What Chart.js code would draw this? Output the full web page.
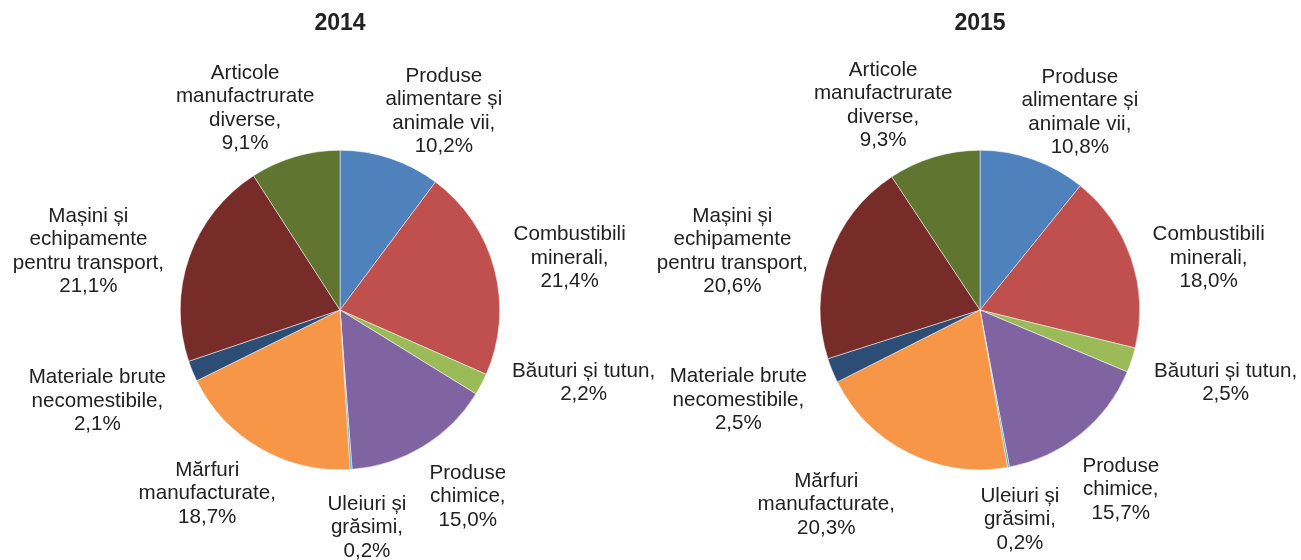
<!DOCTYPE html>
<html lang="ro">
<head>
    <meta charset="UTF-8">
    <meta name="viewport" content="width=device-width, initial-scale=1.0">
    <title>Structura exporturilor 2014 - 2015</title>
    <script src="https://cdn.jsdelivr.net/npm/chart.js"></script>
    <style>
        body {
            margin: 0;
            background: #fff;
            width: 1301px;
            height: 560px;
            position: relative;
            overflow: hidden;
            font-family: 'Liberation Sans', Arial, sans-serif;
        }

        .pie-box {
            position: absolute;
            top: 0;
            width: 680px;
            height: 560px;
        }

        #box2014 { left: 0; }
        #box2015 { left: 640px; }
    </style>
</head>
<body>
    <div class="pie-box" id="box2014"><canvas id="chart2014"></canvas></div>
    <div class="pie-box" id="box2015"><canvas id="chart2015"></canvas></div>

    <script>
        // categories (label lines), same order for both years, clockwise from 12 o'clock
        const categories = [
            ['Produse', 'alimentare și', 'animale vii,'],
            ['Combustibili', 'minerali,'],
            ['Băuturi și tutun,'],
            ['Produse', 'chimice,'],
            ['Uleiuri și', 'grăsimi,'],
            ['Mărfuri', 'manufacturate,'],
            ['Materiale brute', 'necomestibile,'],
            ['Mașini și', 'echipamente', 'pentru transport,'],
            ['Articole', 'manufactrurate', 'diverse,']
        ];
        const values2014 = [10.2, 21.4, 2.2, 15.0, 0.2, 18.7, 2.1, 21.1, 9.1];
        const values2015 = [10.8, 18.0, 2.5, 15.7, 0.2, 20.3, 2.5, 20.6, 9.3];

        const sliceColors = ['#4F81BD', '#C0504D', '#9BBB59', '#8064A2', '#4BACC6',
                             '#F79646', '#2C4D75', '#772C2A', '#5F7530'];

        // where each data label sits, relative to the pie centre (px at radius 160)
        const labelOffsets2014 = [[104, -199], [230, -52], [244, 73], [128, 187], [27, 218],
                                  [-133, 184], [-243, 91], [-252, -59], [-95, -202]];
        const labelOffsets2015 = [[100, -198], [229, -52], [246, 73], [141, 180], [40, 210],
                                  [-154, 195], [-242, 90], [-248, -59], [-97, -205]];

        const FONT = "'Liberation Sans', Arial, sans-serif";
        const LINE_H = 23.5;
        const TEXT_COLOR = '#222';

        function fmtPct(v) {
            return v.toFixed(1).replace('.', ',') + '%';
        }

        const sliceLabels = {
            id: 'sliceLabels',
            afterDatasetsDraw(chart, args, opts) {
                const ctx = chart.ctx;
                const meta = chart.getDatasetMeta(0);
                const vals = chart.data.datasets[0].data;
                ctx.save();
                ctx.font = '20.6px ' + FONT;
                ctx.fillStyle = TEXT_COLOR;
                ctx.textAlign = 'center';
                ctx.textBaseline = 'middle';
                meta.data.forEach((arc, i) => {
                    const k = arc.outerRadius / 160;
                    const lines = categories[i].concat(fmtPct(vals[i]));
                    const x = arc.x + opts.offsets[i][0] * k;
                    const y = arc.y + opts.offsets[i][1] * k;
                    const top = y - (lines.length - 1) * LINE_H / 2;
                    lines.forEach((t, j) => ctx.fillText(t, x, top + j * LINE_H));
                });
                ctx.restore();
            }
        };

        function makePie(id, year, values, offsets) {
            return new Chart(document.getElementById(id), {
                type: 'pie',
                data: {
                    labels: categories.map(c => c.join(' ')),
                    datasets: [{
                        data: values,
                        backgroundColor: sliceColors,
                        borderColor: '#ffffff',
                        borderWidth: 0.5
                    }]
                },
                options: {
                    responsive: true,
                    maintainAspectRatio: false,
                    animation: false,
                    events: [],
                    layout: { padding: { left: 180, right: 180, top: 0, bottom: 90 } },
                    plugins: {
                        legend: { display: false },
                        tooltip: { enabled: false },
                        title: {
                            display: true,
                            text: year,
                            color: TEXT_COLOR,
                            font: { family: FONT, size: 23, weight: 'bold', lineHeight: 1.2 },
                            padding: { top: 10.2, bottom: 112.2 }
                        },
                        sliceLabels: { offsets: offsets }
                    }
                },
                plugins: [sliceLabels]
            });
        }

        makePie('chart2014', '2014', values2014, labelOffsets2014);
        makePie('chart2015', '2015', values2015, labelOffsets2015);
    </script>
</body>
</html>
